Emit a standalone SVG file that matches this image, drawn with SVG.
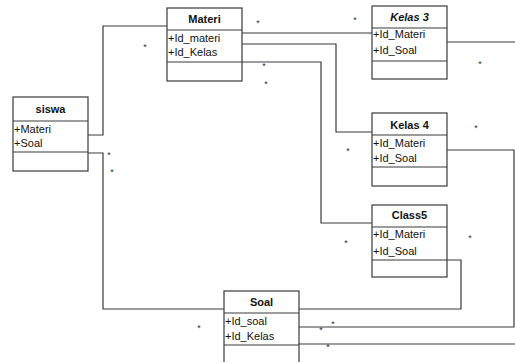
<svg xmlns="http://www.w3.org/2000/svg" width="515" height="362" viewBox="0 0 515 362">
<style>
.box{fill:#fff;stroke:#3a3a3a;stroke-width:1.2}
.div{stroke:#3a3a3a;stroke-width:1.2}
.title{font-family:"Liberation Sans",Arial,sans-serif;font-size:11px;font-weight:bold;fill:#111;text-anchor:middle}
.attr{font-family:"Liberation Sans",Arial,sans-serif;font-size:11px;fill:#111}
.conn{fill:none;stroke:#3a3a3a;stroke-width:1.2}
.m{font-family:"Liberation Sans",Arial,sans-serif;font-size:9px;fill:#333;text-anchor:middle}
</style>
<rect width="515" height="362" fill="#fff"/>
<g id="connectors">
<polyline class="conn" points="88,135 103,135 103,26 167,26"/>
<polyline class="conn" points="88,153 103,153 103,309 224,309"/>
<polyline class="conn" points="242,33 372,33"/>
<polyline class="conn" points="242,44 336,44 336,132 372,132"/>
<polyline class="conn" points="242,62 321,62 321,223 372,223"/>
<polyline class="conn" points="447,42 515,42"/>
<polyline class="conn" points="447,150 514,150 514,327 299,327"/>
<polyline class="conn" points="447,260 461,260 461,309 299,309"/>
<polyline class="conn" points="299,344 515,344"/>
<g id="multiplicities">
<text class="m" x="145" y="50">*</text>
<text class="m" x="258" y="26">*</text>
<text class="m" x="355" y="23">*</text>
<text class="m" x="264" y="69">*</text>
<text class="m" x="266" y="87">*</text>
<text class="m" x="109" y="158">*</text>
<text class="m" x="112" y="175">*</text>
<text class="m" x="480" y="67">*</text>
<text class="m" x="476" y="131">*</text>
<text class="m" x="348" y="154">*</text>
<text class="m" x="346" y="246">*</text>
<text class="m" x="470" y="241">*</text>
<text class="m" x="199" y="331">*</text>
<text class="m" x="321" y="333">*</text>
<text class="m" x="333" y="327">*</text>
<text class="m" x="328" y="350">*</text>
</g>
</g>
<g id="siswa">
<rect class="box" x="13" y="97" width="75" height="74"/>
<line class="div" x1="13" y1="121" x2="88" y2="121"/>
<line class="div" x1="13" y1="152" x2="88" y2="152"/>
<text class="title" x="50.5" y="113">siswa</text>
<text class="attr" x="14" y="133">+Materi</text>
<text class="attr" x="14" y="147">+Soal</text>
</g>
<g id="materi">
<rect class="box" x="167" y="8" width="75" height="73"/>
<line class="div" x1="167" y1="30" x2="242" y2="30"/>
<line class="div" x1="167" y1="62" x2="242" y2="62"/>
<text class="title" x="204.5" y="23">Materi</text>
<text class="attr" x="168" y="42">+Id_materi</text>
<text class="attr" x="168" y="56">+Id_Kelas</text>
</g>
<g id="kelas3">
<rect class="box" x="372" y="6" width="75" height="73"/>
<line class="div" x1="372" y1="28" x2="447" y2="28"/>
<line class="div" x1="372" y1="61" x2="447" y2="61"/>
<text class="title" x="409.5" y="21" font-style="italic">Kelas 3</text>
<text class="attr" x="373" y="38">+Id_Materi</text>
<text class="attr" x="373" y="54">+Id_Soal</text>
</g>
<g id="kelas4">
<rect class="box" x="372" y="113" width="75" height="73"/>
<line class="div" x1="372" y1="135" x2="447" y2="135"/>
<line class="div" x1="372" y1="167" x2="447" y2="167"/>
<text class="title" x="409.5" y="129">Kelas 4</text>
<text class="attr" x="373" y="147">+Id_Materi</text>
<text class="attr" x="373" y="162">+Id_Soal</text>
</g>
<g id="class5">
<rect class="box" x="372" y="205" width="75" height="72"/>
<line class="div" x1="372" y1="227" x2="447" y2="227"/>
<line class="div" x1="372" y1="260" x2="447" y2="260"/>
<text class="title" x="409.5" y="219">Class5</text>
<text class="attr" x="373" y="238">+Id_Materi</text>
<text class="attr" x="373" y="255">+Id_Soal</text>
</g>
<g id="soal">
<rect class="box" x="224" y="291" width="75" height="80"/>
<line class="div" x1="224" y1="313" x2="299" y2="313"/>
<line class="div" x1="224" y1="345" x2="299" y2="345"/>
<text class="title" x="261.5" y="306">Soal</text>
<text class="attr" x="225" y="325">+Id_soal</text>
<text class="attr" x="225" y="340">+Id_Kelas</text>
</g>
</svg>
